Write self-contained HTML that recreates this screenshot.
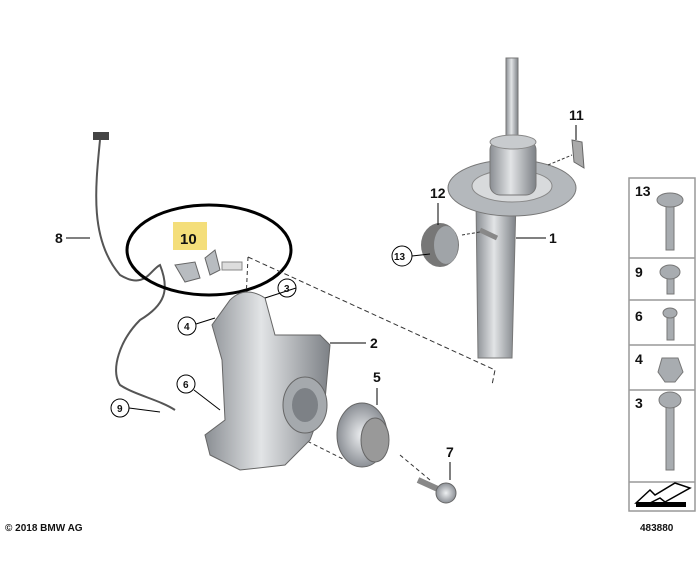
<!DOCTYPE html>
<html><head><meta charset="utf-8"><style>
body{margin:0;background:#fff;width:700px;height:570px;overflow:hidden}
svg{display:block}
text{font-family:"Liberation Sans",sans-serif;font-weight:bold;fill:#111}
</style></head><body>
<svg width="700" height="570" viewBox="0 0 700 570">
<defs>
<linearGradient id="g" x1="0" x2="1"><stop offset="0" stop-color="#8a8e93"/><stop offset=".45" stop-color="#e2e4e6"/><stop offset="1" stop-color="#7d8186"/></linearGradient>
<radialGradient id="r"><stop offset="0" stop-color="#eef0f2"/><stop offset="1" stop-color="#8c9096"/></radialGradient>
</defs>
<!-- sensor cable -->
<path d="M100 140 C95 190,90 240,120 275 C145 290,150 270,160 265 C170 290,165 305,140 320 C120 340,110 370,120 385 C135 395,160 400,175 410" fill="none" stroke="#555" stroke-width="2"/>
<rect x="93" y="132" width="16" height="8" fill="#444"/>
<!-- ellipse -->
<ellipse cx="209" cy="250" rx="82" ry="45" fill="none" stroke="#000" stroke-width="3"/>
<rect x="173" y="222" width="34" height="28" fill="#f4de7a"/>
<text x="180" y="244" font-size="15">10</text>
<path d="M175 265 L195 262 L200 278 L185 282Z M205 258 L215 250 L220 270 L210 275Z" fill="#b8bcc0" stroke="#666"/>
<rect x="222" y="262" width="20" height="8" fill="#ddd" stroke="#888"/>
<!-- dashed lines -->
<path d="M248 257 L495 370 L492 385" fill="none" stroke="#333" stroke-dasharray="5,3"/>
<path d="M248 257 L246 300" fill="none" stroke="#333" stroke-dasharray="4,3"/>
<path d="M295 435 L345 460 M400 455 L430 480" fill="none" stroke="#333" stroke-dasharray="4,3"/>
<!-- knuckle -->
<path d="M230 300 Q245 285 265 298 L275 335 L320 335 L330 345 L325 400 L310 440 L285 465 L240 470 L210 455 L205 435 L225 420 L222 360 L212 325 Z" fill="url(#g)" stroke="#666"/>
<ellipse cx="305" cy="405" rx="22" ry="28" fill="#a5a9ad" stroke="#666"/>
<ellipse cx="305" cy="405" rx="13" ry="17" fill="#7d8186"/>
<!-- hub -->
<ellipse cx="362" cy="435" rx="25" ry="32" fill="url(#r)" stroke="#666"/>
<ellipse cx="375" cy="440" rx="14" ry="22" fill="#999" stroke="#666"/>
<!-- bolt 7 -->
<path d="M418 480 L440 490" stroke="#888" stroke-width="6"/>
<circle cx="446" cy="493" r="10" fill="url(#r)" stroke="#666"/>
<!-- strut -->
<rect x="506" y="58" width="12" height="90" fill="url(#g)" stroke="#777"/>
<path d="M476 200 L516 200 L512 358 L478 358 Z" fill="url(#g)" stroke="#777"/>
<ellipse cx="512" cy="188" rx="64" ry="28" fill="#b4b8bc" stroke="#777"/>
<ellipse cx="512" cy="186" rx="40" ry="16" fill="#d8dadc" stroke="#888"/>
<rect x="490" y="140" width="46" height="55" rx="10" fill="url(#g)" stroke="#777"/>
<ellipse cx="513" cy="142" rx="23" ry="7" fill="#c8cbce" stroke="#888"/>
<path d="M480 230 L497 238" stroke="#888" stroke-width="5"/>
<path d="M462 235 L480 232" stroke="#333" stroke-dasharray="3,2"/>
<!-- 12 bump -->
<ellipse cx="440" cy="245" rx="19" ry="22" fill="#777"/>
<ellipse cx="446" cy="245" rx="12" ry="19" fill="#a0a4a8"/>
<!-- 11 bracket -->
<path d="M572 140 L582 142 L584 168 L574 162Z" fill="#aaa" stroke="#666"/>
<path d="M548 165 L572 155" stroke="#333" stroke-dasharray="3,2"/>
<!-- labels -->
<g font-size="14">
<text x="55" y="243">8</text><path d="M66 238 H90" stroke="#000"/>
<text x="549" y="243">1</text><path d="M516 238 H546" stroke="#000"/>
<text x="370" y="348">2</text><path d="M330 343 H366" stroke="#000"/>
<text x="373" y="382">5</text><path d="M377 388 V405" stroke="#000"/>
<text x="446" y="457">7</text><path d="M450 462 V480" stroke="#000"/>
<text x="569" y="120">11</text><path d="M576 125 V140" stroke="#000"/>
<text x="430" y="198">12</text><path d="M438 203 V225" stroke="#000"/>
</g>
<g font-size="10" fill="none" stroke="#000">
<circle cx="287" cy="288" r="9"/><circle cx="187" cy="326" r="9"/><circle cx="186" cy="384" r="9"/><circle cx="120" cy="408" r="9"/><circle cx="402" cy="256" r="10"/>
<path d="M296 288 L265 298 M196 324 L215 318 M194 390 L220 410 M129 408 L160 412 M412 256 L430 254"/>
</g>
<g font-size="10">
<text x="284" y="292">3</text><text x="184" y="330">4</text><text x="183" y="388">6</text><text x="117" y="412">9</text><text x="394" y="260">13</text>
</g>
<!-- right panel -->
<g fill="none" stroke="#999" stroke-width="1.5">
<rect x="629" y="178" width="66" height="333"/>
<path d="M629 258 H695 M629 300 H695 M629 345 H695 M629 390 H695 M629 482 H695"/>
</g>
<g font-size="14"><text x="635" y="196">13</text><text x="635" y="277">9</text><text x="635" y="321">6</text><text x="635" y="364">4</text><text x="635" y="408">3</text></g>
<g fill="#a8acb0" stroke="#777">
<rect x="666" y="200" width="8" height="50"/><ellipse cx="670" cy="200" rx="13" ry="7"/>
<rect x="667" y="270" width="7" height="24"/><ellipse cx="670" cy="272" rx="10" ry="7"/>
<rect x="667" y="312" width="7" height="28"/><ellipse cx="670" cy="313" rx="7" ry="5"/>
<path d="M658 372 L662 358 L678 358 L683 372 L675 382 L665 382Z"/>
<rect x="666" y="400" width="8" height="70"/><ellipse cx="670" cy="400" rx="11" ry="8"/>
</g>
<path d="M636 503 L650 490 L655 495 L675 483 L690 488 L665 502 L660 498 L650 503Z" fill="#fff" stroke="#000" stroke-width="1.5"/>
<rect x="636" y="502" width="50" height="5" fill="#000"/>
<text x="5" y="531" font-size="10" font-weight="normal">© 2018 BMW AG</text>
<text x="640" y="531" font-size="10" font-weight="normal" fill="#444">483880</text>
</svg>
</body></html>
